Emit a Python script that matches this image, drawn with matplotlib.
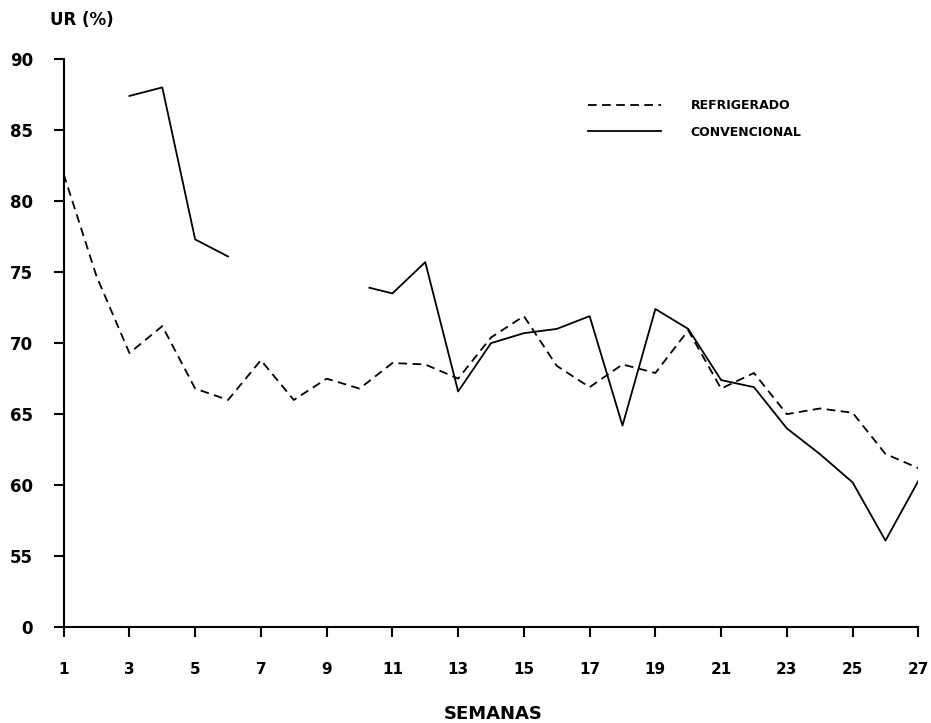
#!/usr/bin/env python

# import libraries
import numpy as np
import matplotlib
matplotlib.use("Agg")
import matplotlib.pyplot as plt

# weeks and relative humidity (%)
weeks = list(range(1, 28))
refrigerado = [81.9, 74.7, 69.3, 71.2, 66.8, 66.0, 68.8, 66.0, 67.5, 66.8,
               68.6, 68.5, 67.5, 70.4, 71.9, 68.4, 66.9, 68.5, 67.9, 70.9,
               66.8, 67.9, 65.0, 65.4, 65.1, 62.2, 61.2]

# convencional has a gap (no data) between weeks 6 and ~10
conv_weeks = [3, 4, 5, 6, 8, 10.3, 11, 12, 13, 14, 15, 16, 17, 18, 19, 20,
              21, 22, 23, 24, 25, 26, 27]
convencional = [87.4, 88.0, 77.3, 76.1, np.nan, 73.9, 73.5, 75.7, 66.6, 70.0,
                70.7, 71.0, 71.9, 64.2, 72.4, 71.0, 67.4, 66.9, 64.0, 62.2,
                60.2, 56.1, 60.3]

# y axis is broken: the bottom tick stands for 0, the rest 55..90
y_ticks = [50, 55, 60, 65, 70, 75, 80, 85, 90]
y_labels = ["0", "55", "60", "65", "70", "75", "80", "85", "90"]
x_ticks = list(range(1, 28, 2))

plt.rcParams['font.family'] = ['DejaVu Sans']

fig = plt.figure(figsize=(9.31, 7.23), dpi=100)
ax = fig.add_axes([0.0684, 0.1324, 0.918, 0.786])

ax.plot(weeks, refrigerado, color="black", lw=1.3, dashes=(4.8, 3.0),
        label="REFRIGERADO")
ax.plot(conv_weeks, convencional, color="black", lw=1.3, label="CONVENCIONAL")

ax.set_xlim(1, 27)
ax.set_ylim(50, 90)
ax.set_xticks(x_ticks)
ax.set_xticklabels([str(w) for w in x_ticks])
ax.set_yticks(y_ticks)
ax.set_yticklabels(y_labels)

for side in ["top", "right"]:
    ax.spines[side].set_visible(False)
for side in ["left", "bottom"]:
    ax.spines[side].set_linewidth(1.5)

ax.tick_params(axis="x", direction="out", length=7, width=1.5, pad=18,
               labelsize=11)
ax.tick_params(axis="y", direction="out", length=7, width=1.5, pad=15,
               labelsize=12)
for lab in ax.get_xticklabels() + ax.get_yticklabels():
    lab.set_fontweight("bold")

fig.text(50 / 931, 1 - 20 / 723, "UR (%)", ha="left", va="center",
         fontsize=12, fontweight="bold")
fig.text(493 / 931, 1 - 714 / 723, "SEMANAS", ha="center", va="center",
         fontsize=13, fontweight="bold")

ax.legend(loc="upper left", bbox_to_anchor=(588 / 931, 1 - 99 / 723),
          bbox_transform=fig.transFigure, frameon=False,
          handlelength=5.8, handletextpad=2.4, labelspacing=1.1,
          borderpad=0, borderaxespad=0, prop={"weight": "bold", "size": 9})

plt.savefig("out.png", dpi=100)
